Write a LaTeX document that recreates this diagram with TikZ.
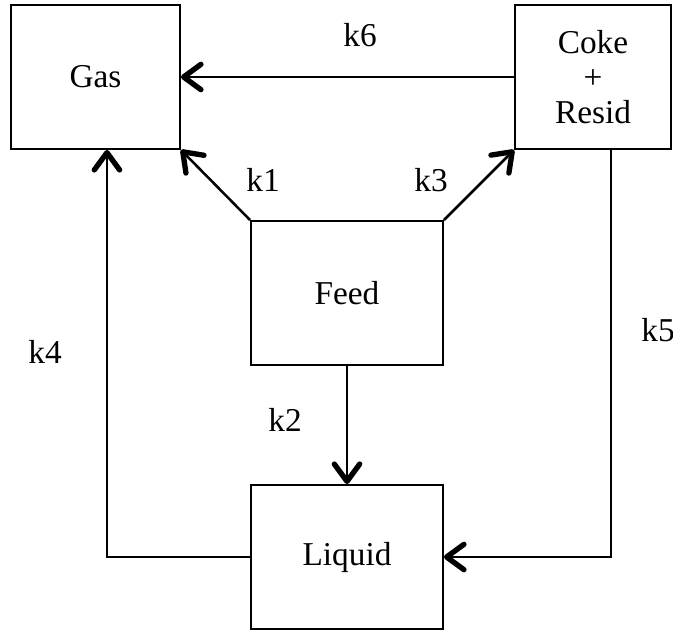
\documentclass[tikz,border=0pt]{standalone}
\usepackage{fontspec}
\setmainfont{Liberation Serif}
\usetikzlibrary{arrows.meta}
\begin{document}
\begin{tikzpicture}[x=0.75pt,y=-0.75pt,
  every node/.style={font=\fontsize{25}{30}\selectfont},
  box/.style={draw, line width=1.4pt, inner sep=0pt, align=center},
  tip/.style={-{Straight Barb[length=13pt,width=19pt,line width=4pt,round]}},
  thickarr/.style={tip, line width=1.9pt},
  thinarr/.style={tip, line width=0.8pt},
  lab/.style={inner sep=0pt}]
\useasboundingbox (0,0) rectangle (673,630);
\node[box, minimum width=126.75pt, minimum height=108pt] (gas) at (95.5,77) {Gas};
\node[box, minimum width=117pt, minimum height=108pt] (coke) at (593,77) {Coke\\[-4pt]+\\[-4pt]Resid};
\node[box, minimum width=144pt, minimum height=108pt] (feed) at (347,293) {Feed};
\node[box, minimum width=144pt, minimum height=108pt] (liquid) at (347,557) {Liquid};
\draw[thickarr] (coke.west) -- (gas.east);
\draw[thickarr] (feed.north west) -- (gas.south east);
\draw[thickarr] (feed.north east) -- (coke.south west);
\draw[thickarr] (feed.south) -- (liquid.north);
\draw[thinarr] (liquid.west) -| ([xshift=8.6pt]gas.south);
\draw[thinarr] ([xshift=13.5pt]coke.south) |- (liquid.east);
\node[lab] (k6) at (360,35) {k6};
\node[lab] (k1) at (263,180) {k1};
\node[lab] (k3) at (431,180) {k3};
\node[lab] (k2) at (285,420) {k2};
\node[lab] (k4) at (45,352) {k4};
\node[lab] (k5) at (658,330) {k5};
\end{tikzpicture}
\end{document}
